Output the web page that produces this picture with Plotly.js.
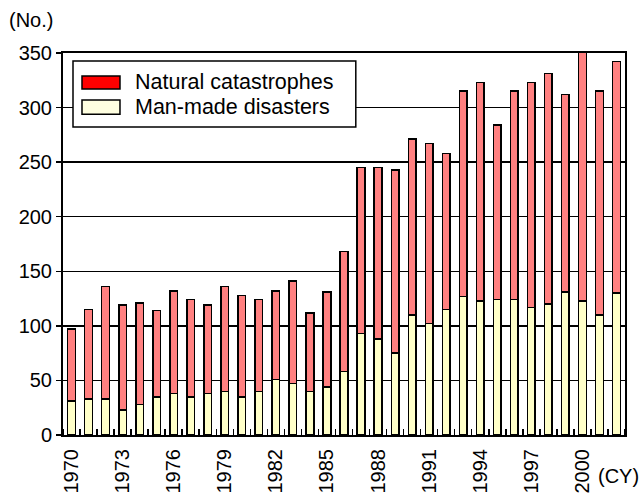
<!DOCTYPE html>
<html>
<head>
<meta charset="utf-8">
<script src="https://cdn.plot.ly/plotly-3.0.1.min.js"></script>
<style>
  html, body { margin: 0; padding: 0; background: #fff; }
  #chart { width: 640px; height: 495px; }
</style>
</head>
<body>
<div id="chart"></div>
<script>
// Number of catastrophes per calendar year, 1970-2002
const years = [1970, 1971, 1972, 1973, 1974, 1975, 1976, 1977, 1978, 1979,
               1980, 1981, 1982, 1983, 1984, 1985, 1986, 1987, 1988, 1989,
               1990, 1991, 1992, 1993, 1994, 1995, 1996, 1997, 1998, 1999,
               2000, 2001, 2002];
const manMade = [31, 33, 33, 23, 28, 35, 38, 35, 38, 40,
                 35, 40, 51, 47, 40, 44, 58, 93, 88, 75,
                 110, 102, 115, 127, 123, 124, 124, 117, 120, 131,
                 123, 110, 130];
const totals = [97, 115, 136, 119, 121, 114, 132, 124, 119, 136,
                128, 124, 132, 141, 112, 131, 168, 245, 245, 243,
                271, 267, 258, 315, 323, 284, 315, 323, 331, 312,
                351, 315, 342];
const natural = totals.map((t, i) => t - manMade[i]);

const seriesNames = ['Natural catastrophes', 'Man-made disasters'];
const yTicks = [0, 50, 100, 150, 200, 250, 300, 350];
const xTicks = [1970, 1973, 1976, 1979, 1982, 1985, 1988, 1991, 1994, 1997, 2000];

const FONT = 'Arial, "Liberation Sans", Helvetica, sans-serif';
const barLine = { color: '#000', width: 1.5 };

const traces = [
  { type: 'bar', name: seriesNames[1], x: years, y: manMade, width: 0.45,
    marker: { color: '#ffffc8', line: barLine }, showlegend: false },
  { type: 'bar', name: seriesNames[0], x: years, y: natural, width: 0.45,
    marker: { color: '#ff8080', line: barLine }, showlegend: false }
];

// Legend box drawn as a framed panel with two long swatches
const legendBox = { x0: 0.0178, x1: 0.521, y0: 0.806, y1: 0.979 };
const swatches = [
  { color: '#ff0000', y0: 0.906, y1: 0.940, ty: 0.923 },
  { color: '#ffffe0', y0: 0.8395, y1: 0.877, ty: 0.858 }
];

const shapes = [
  { type: 'rect', xref: 'paper', yref: 'paper', layer: 'above',
    x0: legendBox.x0, x1: legendBox.x1, y0: legendBox.y0, y1: legendBox.y1,
    fillcolor: '#fff', line: { color: '#000', width: 1.5 } }
].concat(swatches.map(s => ({
  type: 'rect', xref: 'paper', yref: 'paper', layer: 'above',
  x0: 0.0338, x1: 0.1014, y0: s.y0, y1: s.y1,
  fillcolor: s.color, line: { color: '#000', width: 1.5 }
})));

const annotations = swatches.map((s, i) => ({
  xref: 'paper', yref: 'paper', x: 0.1245, y: s.ty,
  xanchor: 'left', yanchor: 'middle', showarrow: false,
  text: seriesNames[i], font: { family: FONT, size: 21.5, color: '#000' }
})).concat([
  { xref: 'paper', yref: 'paper', x: -0.1, y: 1.086, xanchor: 'left',
    yanchor: 'middle', showarrow: false, text: '(No.)',
    font: { family: FONT, size: 20, color: '#000' } },
  { xref: 'paper', yref: 'paper', x: 0.948, y: -0.107, xanchor: 'left',
    yanchor: 'middle', showarrow: false, text: '(CY)',
    font: { family: FONT, size: 20, color: '#000' } }
]);

const layout = {
  width: 640, height: 495,
  margin: { l: 63, r: 15, t: 53, b: 60, pad: 0 },
  paper_bgcolor: '#fff', plot_bgcolor: '#fff',
  barmode: 'stack',
  showlegend: false,
  font: { family: FONT, size: 20, color: '#000' },
  xaxis: {
    type: 'linear', range: [1969.5, 2002.5],
    tickmode: 'array', tickvals: xTicks, ticktext: xTicks.map(String),
    tickangle: -90, ticks: '', showgrid: false, zeroline: false,
    ticklabelstandoff: 4,
    showline: true, linecolor: '#000', linewidth: 2, mirror: true,
    layer: 'below traces',
    tickfont: { family: FONT, size: 20, color: '#000' },
    minor: { tick0: 1969.5, dtick: 1, ticks: 'inside', ticklen: 6,
             tickwidth: 1.5, tickcolor: '#000', showgrid: false }
  },
  yaxis: {
    range: [0, 350], tickmode: 'array', tickvals: yTicks,
    ticks: 'outside', ticklen: 5, tickwidth: 1.5, tickcolor: '#000',
    showgrid: true, gridcolor: '#000', gridwidth: 1.5, zeroline: false,
    showline: true, linecolor: '#000', linewidth: 2, mirror: true,
    layer: 'below traces',
    tickfont: { family: FONT, size: 20, color: '#000' }
  },
  shapes: shapes,
  annotations: annotations
};

Plotly.newPlot('chart', traces, layout, { staticPlot: true, displayModeBar: false });
</script>
</body>
</html>
